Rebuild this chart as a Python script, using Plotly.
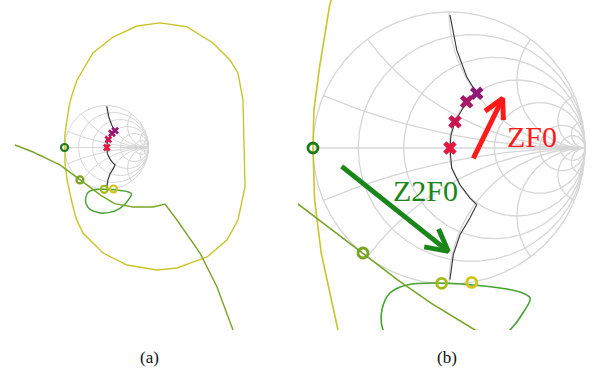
import numpy as np
import plotly.graph_objects as go

# ---------------- data (reflection-coefficient plane, Re / Im) ----------------
# large yellow trajectory
yellow_re = [1.274, 1.910, 2.536, 2.940, 3.131, 3.250, 3.298, 3.131, 2.869, 2.393, 1.679, 1.202, 0.488,
             -0.083, -0.560, -0.720, -0.816, -0.877, -0.939, -0.988, -1.000, -0.993, -0.951, -0.877,
             -0.800, -0.702, -0.321, 0.155, 0.726, 1.274]
yellow_im = [2.967, 2.876, 2.488, 2.083, 1.774, 1.131, -0.940, -1.726, -2.202, -2.607, -2.869, -2.917, -2.798,
             -2.512, -2.036, -1.700, -1.338, -1.069, -0.774, -0.382, 0.000, 0.279, 0.598, 1.051,
             1.320, 1.607, 2.250, 2.631, 2.893, 2.967]

# olive-green trajectory
olive_re = [-2.179, -1.750, -1.345, -1.110, -1.022, -0.632, -0.375, -0.132, 0.191, 0.631, 1.107, 1.393,
            1.679, 2.226, 2.631, 3.012]
olive_im = [0.060, -0.107, -0.298, -0.412, -0.478, -0.772, -0.971, -1.140, -1.338, -1.417, -1.417, -1.345,
            -1.726, -2.512, -3.321, -4.345]

# green loop
loop_re = [-0.066, 0.176, 0.375, 0.522, 0.596, 0.544, 0.449, 0.300, 0.100, -0.150, -0.380, -0.485, -0.493,
           -0.434, -0.309, -0.066]
loop_im = [-0.993, -1.007, -1.029, -1.059, -1.103, -1.213, -1.338, -1.460, -1.540, -1.560, -1.480, -1.338,
           -1.191, -1.066, -1.007, -0.993]

# black impedance trajectory
imp_re = [0.007, 0.057, 0.130, 0.204, 0.130, 0.044, 0.015, 0.007, 0.020, 0.081, 0.154, 0.204, 0.154,
          0.081, 0.032, 0.007]
imp_im = [0.978, 0.721, 0.524, 0.402, 0.340, 0.193, 0.095, 0.000, -0.147, -0.270, -0.368, -0.417, -0.515,
          -0.638, -0.784, -0.968]

# ZF0 points (crosses)
zf_re = [0.007, 0.044, 0.130, 0.204]
zf_im = [0.000, 0.193, 0.340, 0.402]
zf_colors = ["#e5173f", "#c81850", "#a51866", "#8e1a74"]

# Z2F0 points (open circles)
z2_re = [-1.000, -0.632, -0.054, 0.167]
z2_im = [0.000, -0.772, -0.995, -0.988]
z2_colors = ["#1c7a1c", "#76a41c", "#a8b81c", "#d2c41a"]

# annotation arrows (tail, tip) in panel (b)
zf_arrow = [(0.179, -0.076), (0.395, 0.365)]
z2_arrow = [(-0.789, -0.135), (-0.005, -0.760)]
zf_label = ("ZF0", 0.614, 0.085)
z2_label = ("Z2F0", -0.171, -0.316)

# Smith chart grid values
R_VALUES = [0.2, 0.5, 1, 2, 5, 10]
X_VALUES = [0.2, 0.5, 1, 2, 5, 10]

GRID = "#d6d6d6"
YELLOW = "#c8c62c"
OLIVE = "#78a42a"
LOOPG = "#46a232"
RED = "#ff1a1a"
DGREEN = "#1a861a"


def smith_grid():
    xs, ys = [], []
    for r in [0] + R_VALUES:
        c = r / (1 + r)
        rad = 1 / (1 + r)
        t = np.linspace(0, 2 * np.pi, 361)
        xs += list(c + rad * np.cos(t)) + [None]
        ys += list(rad * np.sin(t)) + [None]
    for x in X_VALUES:
        for s in (1, -1):
            rr = np.tan(np.linspace(0, np.pi / 2, 500, endpoint=False))
            z = rr + 1j * s * x
            g = (z - 1) / (z + 1)
            xs += list(g.real) + [1.0, None]
            ys += list(g.imag) + [0.0, None]
    xs += [-1, 1, None]
    ys += [0, 0, None]
    return xs, ys


gx, gy = smith_grid()

fig = go.Figure()

panels = [
    dict(xa="x", ya="y", grid_w=1.0, curve_w=1.4, circ=7, circ_w=2.2, cross=7),
    dict(xa="x2", ya="y2", grid_w=1.3, curve_w=1.6, circ=10, circ_w=2.8, cross=12),
]

for p in panels:
    kw = dict(xaxis=p["xa"], yaxis=p["ya"], hoverinfo="skip", showlegend=False)
    fig.add_trace(go.Scatter(x=gx, y=gy, mode="lines", line=dict(color=GRID, width=p["grid_w"]), **kw))
    fig.add_trace(go.Scatter(x=yellow_re, y=yellow_im, mode="lines",
                             line=dict(color=YELLOW, width=p["curve_w"]), **kw))
    fig.add_trace(go.Scatter(x=loop_re, y=loop_im, mode="lines", line_shape="spline",
                             line=dict(color=LOOPG, width=p["curve_w"]), **kw))
    fig.add_trace(go.Scatter(x=olive_re, y=olive_im, mode="lines",
                             line=dict(color=OLIVE, width=p["curve_w"]), **kw))
    fig.add_trace(go.Scatter(x=imp_re, y=imp_im, mode="lines",
                             line=dict(color="#333333", width=1.1), **kw))
    fig.add_trace(go.Scatter(x=zf_re, y=zf_im, mode="markers",
                             marker=dict(symbol="x", size=p["cross"], color=zf_colors,
                                         line=dict(width=0)), **kw))
    fig.add_trace(go.Scatter(x=z2_re, y=z2_im, mode="markers",
                             marker=dict(symbol="circle-open", size=p["circ"], color=z2_colors,
                                         line=dict(width=p["circ_w"], color=z2_colors)), **kw))


def arrow_xy(tail, tip, arm, half_deg):
    tx, ty = tail
    hx, hy = tip
    ang = np.arctan2(ty - hy, tx - hx)
    a = np.radians(half_deg)
    ax1 = hx + arm * np.cos(ang + a)
    ay1 = hy + arm * np.sin(ang + a)
    ax2 = hx + arm * np.cos(ang - a)
    ay2 = hy + arm * np.sin(ang - a)
    xs = [tx, hx, None, ax1, hx, ax2]
    ys = [ty, hy, None, ay1, hy, ay2]
    return xs, ys


for arr, col, arm in [(zf_arrow, RED, 0.16), (z2_arrow, DGREEN, 0.18)]:
    ax_, ay_ = arrow_xy(arr[0], arr[1], arm, 28)
    fig.add_trace(go.Scatter(x=ax_, y=ay_, mode="lines", line=dict(color=col, width=5),
                             xaxis="x2", yaxis="y2", hoverinfo="skip", showlegend=False))

annotations = []
for (txt, lx, ly), col in [(zf_label, RED), (z2_label, DGREEN)]:
    annotations.append(dict(text=txt, x=lx, y=ly, xref="x2", yref="y2", showarrow=False,
                            font=dict(family="Liberation Serif", size=30, color=col)))
for txt, px in [("(a)", 149), ("(b)", 447)]:
    annotations.append(dict(text=txt, x=px / 596, y=1 - 357 / 370, xref="paper", yref="paper",
                            showarrow=False, xanchor="center", yanchor="middle",
                            font=dict(family="Liberation Serif", size=17, color="#111111")))

ax_common = dict(visible=False, showgrid=False, zeroline=False, fixedrange=True)
fig.update_layout(
    width=596, height=370,
    margin=dict(l=0, r=0, t=0, b=0),
    paper_bgcolor="white", plot_bgcolor="white",
    showlegend=False,
    xaxis=dict(domain=[0, 0.5], range=[-2.536, 4.560], **ax_common),
    yaxis=dict(domain=[35 / 370, 1], range=[-4.464, 3.512], **ax_common),
    xaxis2=dict(domain=[0.5, 1], range=[-1.110, 1.081], **ax_common),
    yaxis2=dict(domain=[40 / 370, 1], range=[-1.338, 1.088], **ax_common),
    annotations=annotations,
)

fig.write_html("out.html", config={"displayModeBar": False},
               post_script="document.body.style.margin='0';document.body.style.padding='0';"
                           "document.documentElement.style.overflow='hidden';")
